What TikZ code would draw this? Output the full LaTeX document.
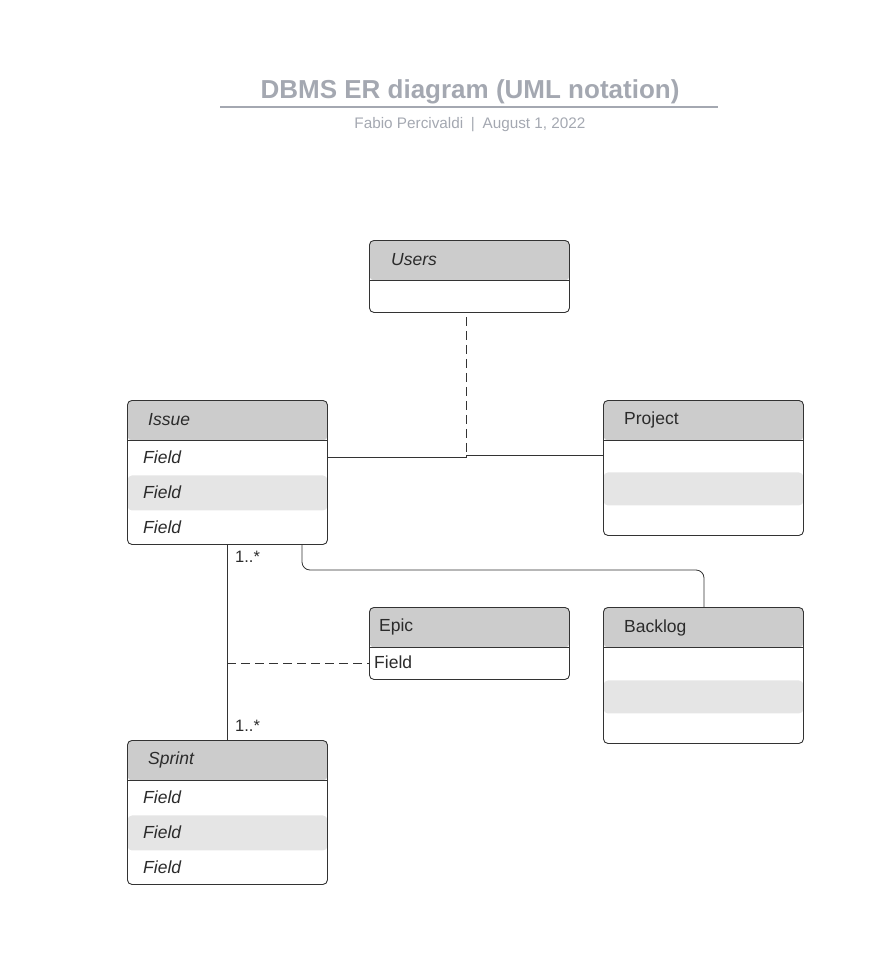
\documentclass[tikz,border=0pt]{standalone}
\usepackage{fontspec}
\setmainfont{Liberation Sans}
\usetikzlibrary{calc}
\definecolor{linec}{HTML}{333333}
\definecolor{txt}{HTML}{2B2B2B}
\definecolor{hdr}{HTML}{CCCCCC}
\definecolor{band}{HTML}{E5E5E5}
\definecolor{ttl}{HTML}{A4A8B1}
\newcommand\hband[3]{\fill[#1] ([yshift=-#2pt]path picture bounding box.north west) rectangle ([yshift=-#3pt]path picture bounding box.north east);}
\tikzset{
  entity/.style={draw=linec, line width=0.9pt, rounded corners=4.5pt, minimum width=200pt, minimum height=#1, inner sep=0pt, anchor=north west},
  lbl/.style={anchor=west, inner sep=0pt, text=txt, font=\fontsize{17.5}{20}\selectfont},
  ilbl/.style={lbl, font=\fontsize{17.5}{20}\selectfont\itshape},
  conn/.style={draw=linec, line width=0.8pt},
  dconn/.style={conn, dash pattern=on 9pt off 5pt},
  mult/.style={anchor=west, inner sep=0pt, text=txt, font=\fontsize{16.5}{19}\selectfont},
}
\begin{document}
\begin{tikzpicture}[x=1pt,y=-1pt]
\useasboundingbox (0,0) rectangle (896,963);
% title
\node[text=ttl, font=\fontsize{26}{31}\selectfont\bfseries] (title) at (470,91.5) {DBMS ER diagram (UML notation)};
\draw[ttl, line width=1.5pt] (220,107) coordinate (tl) -- (718,107) coordinate (tr);
\node[text=ttl, font=\fontsize{15.3}{18}\selectfont] (sub) at (470,125) {Fabio Percivaldi\enspace|\enspace August 1, 2022};

% Users
\node[entity=72pt, path picture={\hband{hdr}{0}{40}}] (users) at (369,240) {};
\draw[linec, line width=0.9pt] ([yshift=-40pt]users.north west) -- ([yshift=-40pt]users.north east);
\node[ilbl] at (391,260) {Users};

% Issue
\node[entity=144pt, path picture={\hband{hdr}{0}{40}\hband{band}{75}{110}}] (issue) at (127,400) {};
\draw[linec, line width=0.9pt] ([yshift=-40pt]issue.north west) -- ([yshift=-40pt]issue.north east);
\node[ilbl] at (148,420) {Issue};
\node[ilbl] at (143,457) {Field};
\node[ilbl] at (143,492) {Field};
\node[ilbl] at (143,527) {Field};

% Project
\node[entity=135pt, path picture={\hband{hdr}{0}{40}\hband{band}{72}{105}}] (project) at (603,400) {};
\draw[linec, line width=0.9pt] ([yshift=-40pt]project.north west) -- ([yshift=-40pt]project.north east);
\node[lbl] at (624,420) {Project};

% Epic
\node[entity=72pt, path picture={\hband{hdr}{0}{40}}] (epic) at (369,607) {};
\draw[linec, line width=0.9pt] ([yshift=-40pt]epic.north west) -- ([yshift=-40pt]epic.north east);
\node[lbl] at (379,627) {Epic};
\node[lbl] at (374,662) {Field};

% Backlog
\node[entity=136pt, path picture={\hband{hdr}{0}{40}\hband{band}{73}{106}}] (backlog) at (603,607) {};
\draw[linec, line width=0.9pt] ([yshift=-40pt]backlog.north west) -- ([yshift=-40pt]backlog.north east);
\node[lbl] at (624,628) {Backlog};

% Sprint
\node[entity=144pt, path picture={\hband{hdr}{0}{40}\hband{band}{75}{110}}] (sprint) at (127,740) {};
\draw[linec, line width=0.9pt] ([yshift=-40pt]sprint.north west) -- ([yshift=-40pt]sprint.north east);
\node[ilbl] at (148,760) {Sprint};
\node[ilbl] at (143,797) {Field};
\node[ilbl] at (143,832) {Field};
\node[ilbl] at (143,867) {Field};

% connectors
\coordinate (j1) at (466,457.5);
\coordinate (j2) at (466,455.5);
\draw[dconn] ([yshift=-4pt]users.south -| j1) -- (j2);
\draw[conn] (issue.east |- j1) -- (j1) -- (j2) -- (project.west |- j2);

\draw[conn] (issue.south) -- (sprint.north);
\node[mult] at (235,557) {1..*};
\node[mult] at (235,726) {1..*};

\coordinate (bk1) at (302,570);
\coordinate (bk2) at (704,570);
\draw[conn, rounded corners=8pt] (issue.south -| bk1) -- (bk1) -- (bk2) -- (backlog.north -| bk2);

\coordinate (ep) at (227,663);
\draw[dconn] (ep) -- (epic.west |- ep);
\end{tikzpicture}
\end{document}
